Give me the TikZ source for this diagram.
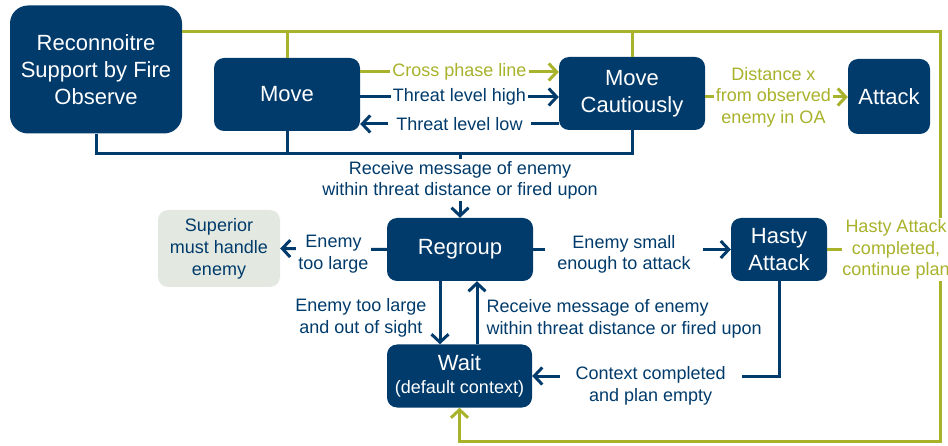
\documentclass[tikz,border=0pt]{standalone}
\usepackage{fontspec}
\setmainfont{Liberation Sans}
\usetikzlibrary{arrows.meta}
\definecolor{navy}{HTML}{003B6B}
\definecolor{olive}{HTML}{A9B22B}
\definecolor{pale}{HTML}{E3E9E1}
\tikzset{
  state/.style={fill=navy, text=white, rounded corners=10pt, align=center,
    inner sep=0pt, font=\fontsize{22}{27}\selectfont},
  bline/.style={draw=navy, line width=3pt},
  gline/.style={draw=olive, line width=3pt},
  blabel/.style={fill=white, text=navy, align=center, inner sep=2pt,
    font=\fontsize{18}{21.5}\selectfont},
  glabel/.style={blabel, text=olive},
}
\begin{document}
\begin{tikzpicture}[x=1pt, y=-1pt, >={Straight Barb[length=8pt,width=17pt]}]
\useasboundingbox (0,0) rectangle (948,446);

% States
\node[state, rounded corners=18pt, minimum width=172pt, minimum height=128pt] (recon) at (96,69.5) {Reconnoitre\\Support by Fire\\Observe};
\node[state, minimum width=146pt, minimum height=73pt] (move) at (287,94.5) {Move};
\node[state, minimum width=146pt, minimum height=73pt] (cautious) at (632,93.5) {Move\\Cautiously};
\node[state, minimum width=82pt, minimum height=75pt] (attack) at (889,96.5) {Attack};
\node[state, fill=pale, text=navy, font=\fontsize{18}{22}\selectfont, minimum width=122pt, minimum height=77pt] (superior) at (219,248.5) {Superior\\must handle\\enemy};
\node[state, minimum width=146pt, minimum height=63pt] (regroup) at (460,249.5) {Regroup};
\node[state, minimum width=96pt, minimum height=63pt] (hasty) at (779,249.5) {Hasty\\Attack};
\node[state, minimum width=145pt, minimum height=63pt] (wait) at (459.5,376) {Wait\\[-4pt]\fontsize{18}{21}\selectfont(default context)};

% Junction coordinates
\coordinate (gtop) at (940,32);
\coordinate (gcorner) at (940,441);
\coordinate (bbar) at (0,154);
\coordinate (ycross) at (0,72);
\coordinate (yhigh) at (0,97);
\coordinate (ylow) at (0,124);
\coordinate (ydist) at (0,97);
\coordinate (xdown) at (440,0);
\coordinate (xup) at (477,0);

% Green return line back to Wait
\draw[gline,->] (recon.east |- gtop) -- (gtop) -- (gcorner) -- (wait.south |- gcorner) -- (wait.south);
\draw[gline] (move.north) -- (move.north |- gtop);
\draw[gline] (cautious.north) -- (cautious.north |- gtop);

% Blue bar to Regroup
\draw[bline] (recon.south) -- (recon.south |- bbar) -- (cautious.south |- bbar) -- (cautious.south);
\draw[bline] (move.south) -- (move.south |- bbar);
\draw[bline,->] (regroup.north |- bbar) -- (regroup.north)
  node[blabel, pos=0.41] {Receive message of enemy\\within threat distance or fired upon};

% Move <-> Move Cautiously
\draw[gline,->] (move.east |- ycross) -- (cautious.west |- ycross)
  node[glabel, midway] {Cross phase line};
\draw[bline,->] (move.east |- yhigh) -- (cautious.west |- yhigh)
  node[blabel, midway] {Threat level high};
\draw[bline,->] (cautious.west |- ylow) -- (move.east |- ylow)
  node[blabel, midway, inner xsep=8pt] {Threat level low};

% Move Cautiously -> Attack
\draw[gline,->] (cautious.east |- ydist) -- (attack.west |- ydist)
  node[glabel, midway, xshift=-3pt] {Distance x\\from observed\\enemy in OA};

% Regroup transitions
\draw[bline,->] (regroup.west) -- (superior.east)
  node[blabel, midway, yshift=-5pt] {Enemy\\too large};
\draw[bline,->] (regroup.east) -- (hasty.west)
  node[blabel, midway, xshift=-8pt, yshift=-5pt, inner xsep=12pt] {Enemy small\\enough to attack};
\draw[bline,->] (regroup.south -| xdown) -- (wait.north -| xdown)
  node[blabel, midway, anchor=east, fill=none, xshift=-10pt, yshift=-5pt] {Enemy too large\\and out of sight};
\draw[bline,->] (wait.north -| xup) -- (regroup.south -| xup)
  node[blabel, midway, anchor=west, fill=none, align=left, xshift=6pt, yshift=-6pt] {Receive message of enemy\\within threat distance or fired upon};

% Hasty Attack transitions
\draw[bline,->] (hasty.south) -- (hasty.south |- wait.east) -- (wait.east)
  node[blabel, pos=0.52, inner xsep=16pt, yshift=-10pt] {Context completed\\and plan empty};
\draw[gline] (hasty.east) -- (hasty.east -| gtop)
  node[glabel, pos=0.61, inner xsep=0pt] {Hasty Attack\\completed,\\continue plan};
\end{tikzpicture}
\end{document}
